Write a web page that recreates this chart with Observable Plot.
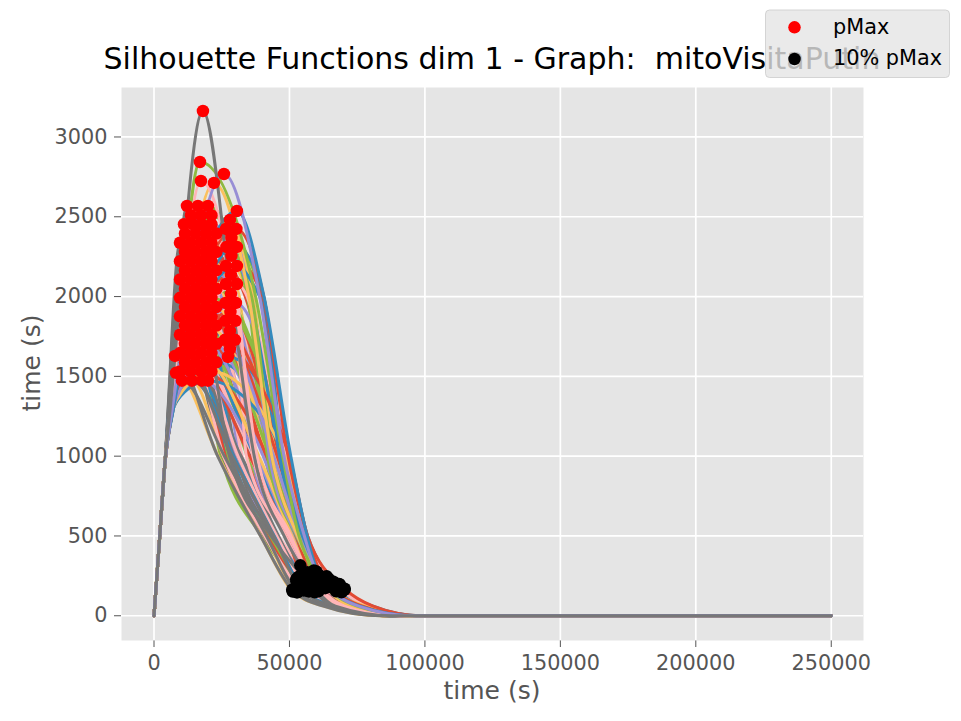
<!DOCTYPE html>
<html>
<head>
<meta charset="utf-8">
<script src="https://cdn.jsdelivr.net/npm/d3@7"></script>
<script src="https://cdn.jsdelivr.net/npm/@observablehq/plot@0.6"></script>
<style>
  html, body { margin: 0; padding: 0; background: #fff; }
  #wrap { position: relative; width: 961px; height: 721px; font-family: "DejaVu Sans", sans-serif; }
  #wrap > svg { position: absolute; left: 0; top: 0; }
</style>
</head>
<body>
<div id="wrap"></div>
<script>
// ---------- data ----------
const titleText = "Silhouette Functions dim 1 - Graph:  mitoVisitaPutin";
const xTicks = [0, 50000, 100000, 150000, 200000, 250000];
const yTicks = [0, 500, 1000, 1500, 2000, 2500, 3000];
const palette = ["#E24A33", "#348ABD", "#988ED5", "#777777", "#FBC15E", "#8EBA42", "#FFB5B8"];

// shared start of every function and its flat end
const riseX = [0, 2000, 4000];
const riseY = [0, 470, 950];
const endX = 250000;

// pMax (red points)
const pMaxX = [15301,26362,17329,11061,19172,28575,15301,28390,11430,19172,
  9586,26546,13458,23044,13458,29865,15301,11430,17329,26546,
  14379,19172,13458,28021,9586,21200,15301,28390,11430,13458,
  17329,11430,28021,11430,21200,28575,13642,23044,9586,21200,
  15301,19172,17329,30602,17329,9586,21200,13458,19172,26362,
  23044,15301,9586,19172,19910,15301,17329,13458,26546,11430,
  14011,23044,13458,28206,17329,17329,9586,8111,21200,11430,
  15301,27284,19172,9586,23044,30049,13458,21200,11430,17698,
  9586,28021,21200,16223,17329,19910,30234,10324,19172,21200,
  30602,23044,30602,21200,7743,21200,26731,17698,23044,23044,
  26178,12167,22122,16960,17329,30418,30602,25809,18066];
const pMaxY = [2395,1960,2337,2453,2395,2367,2164,2136,2395,2164,
  2337,2192,2107,2395,2337,1729,2280,2280,2107,2079,
  2453,2280,1992,1785,2107,2337,1934,2017,2049,2222,
  2510,1934,1672,2164,1646,2255,2510,2164,1876,2222,
  2049,1934,1876,2311,2222,1761,2107,1876,2049,1848,
  1588,1819,2222,1819,2568,1704,1992,1531,2424,1704,
  1473,2049,1646,1904,1646,1761,1992,1522,1992,1819,
  1588,1622,1704,1531,1934,1848,1761,1876,1588,1473,
  1646,2480,1761,2568,1531,1473,1960,1473,1588,2510,
  2079,1819,2192,2453,1628,1531,2311,2453,1704,2280,
  1729,2568,2712,2843,2724,2424,2536,2768,3163];

// x where each function rises through 1300 (null: the peak comes first)
const up1300X = [6100,6800,6300,5700,6400,7000,6100,7000,5700,6400,
  null,6900,5900,6600,5900,7100,6100,5700,6300,6900,
  6000,6400,5900,7000,null,6500,6100,7000,5700,5900,
  6300,5700,7000,5700,6500,7000,5900,6600,null,6500,
  6100,6400,6300,7200,6300,null,6500,5900,6400,6800,
  6600,6100,null,6400,6400,6100,6300,5900,6900,5700,
  6000,6600,5900,7000,6300,6300,null,null,6500,5700,
  6100,6900,6400,null,6600,7100,5900,6500,5700,6300,
  null,7000,6500,6200,6300,6400,7100,null,6400,6500,
  7200,6600,7200,6500,null,6500,6900,6300,6600,6600,
  6800,5800,6600,6400,6300,7100,7200,6800,6000];

// x where each function falls through 2000 (null: peak below it), 1000, 500 and 60
const down2000X = [30500,null,31000,17500,31500,39500,null,null,19000,null,
  20000,null,null,35500,19000,null,23000,17500,null,null,
  22500,34500,null,null,null,35000,null,null,null,null,
  30500,null,null,null,null,40000,21500,null,null,null,
  null,null,null,40500,null,null,null,null,null,null,
  null,null,null,null,34500,null,null,null,36000,null,
  null,null,null,null,null,null,null,null,null,null,
  null,null,null,null,null,null,null,null,null,null,
  null,36500,null,30000,null,null,null,null,null,35000,
  null,null,null,35500,null,null,36000,30500,null,39000,
  null,18500,35000,37500,30000,40500,40600,39000,28500];
const down1000X = [35000,42400,35600,26400,36400,47000,38000,48000,29200,35700,
  30500,42000,36300,41000,25300,49000,31500,25000,37000,44000,
  32500,41500,26700,47400,35200,43300,34500,41600,26400,37500,
  36000,31700,49500,24600,48500,46000,28900,43400,25400,46400,
  27500,37500,36700,47500,40600,30100,42400,38400,43000,42800,
  49100,29900,28100,44400,41100,35300,41300,32000,43800,35800,
  25600,48400,36700,46500,37100,43700,29500,23700,49300,25700,
  35300,49800,40300,32200,42200,47900,31000,47700,29300,37800,
  28800,44700,42700,34100,41700,48700,49600,26000,38700,41900,
  48700,45500,46700,42600,23500,48200,43500,36500,49900,46300,
  44200,27900,43500,47500,38000,49500,50500,48000,37000];
const down500X = [49000,52700,49300,41700,49700,55000,50500,55500,44400,49400,
  45000,52500,49700,52000,40700,56000,45500,40500,50000,53500,
  46000,52300,42400,55200,49100,53200,48800,52300,42200,50300,
  49500,45600,56500,39800,55800,54500,44200,53200,40700,54700,
  43000,50300,49900,55300,51800,44800,52700,50700,53000,52900,
  56300,44700,43800,53700,52100,49200,52200,45800,53400,49400,
  41300,55700,49900,54800,50100,53400,44500,39400,56200,40900,
  49200,56700,51700,45900,52600,55500,45300,55400,44400,50400,
  44200,53900,52900,48600,52400,56100,56300,41500,50900,52500,
  55900,54300,54900,52800,39300,55600,53300,49800,56700,54700,
  53600,43200,53000,53500,50500,56500,56500,55500,48000];

// 10% pMax (black points)
const p10X = [57000,61400,57100,53400,57900,64000,59500,66000,54700,57700,
  55500,61000,57800,60000,52800,68000,56500,52500,58500,63000,
  57500,60500,53700,65400,57200,62300,56500,60600,53400,59000,
  57500,56700,70000,52600,67500,62000,54900,62400,52900,63400,
  54000,59000,58200,64500,59600,55600,61400,59900,62000,61800,
  69600,55400,54100,63400,60100,57300,60300,57000,62800,57300,
  52600,66400,58200,62500,58600,62700,55000,51200,68300,53200,
  56800,70300,59300,57200,61200,64900,56000,65700,55300,59300,
  54300,63700,61700,56100,60700,69200,68600,53000,60200,60900,
  66700,61500,63700,61600,51000,67200,62500,58000,70400,62300,
  63200,54400,59500,59000,56500,62500,61000,60000,54000];
const p10Y = [240,196,234,245,240,237,216,214,240,216,
  234,219,211,240,234,173,228,228,211,208,
  245,228,199,179,211,234,193,202,205,222,
  251,193,167,216,165,226,251,216,188,222,
  205,193,188,231,222,176,211,188,205,185,
  159,182,222,182,257,170,199,153,242,170,
  147,205,165,190,165,176,199,152,199,182,
  159,162,170,153,193,185,176,188,159,147,
  165,248,176,257,153,147,196,147,159,251,
  208,182,219,245,163,153,231,245,170,228,
  173,257,271,284,272,242,254,277,316];

const down60X = [69500,72900,69600,64900,69900,77000,71000,78000,66200,70200,
  67000,73000,70300,72500,64300,79000,68000,64000,70500,74500,
  68500,72500,65200,77400,69700,73800,69000,73100,64900,70500,
  70000,68200,80500,64100,78500,76000,66400,73900,64400,76400,
  65500,71000,70700,77500,72100,67100,73400,71400,73500,73800,
  80100,66900,65600,74900,72100,69800,72800,68500,74300,69800,
  64100,78400,70200,76500,70100,74200,66500,62700,79300,64700,
  69300,80800,71800,68200,73200,77900,67500,77700,66800,71300,
  65800,75200,73200,68600,72700,79700,79600,64500,71700,73400,
  78700,75500,76700,73600,62500,78200,74000,70500,80900,76300,
  74700,65900,73000,75000,70000,77000,76000,75500,67000];
const zeroX = [90000,92900,90100,85900,90400,96000,91000,97000,87200,90700,
  88000,93000,90800,92500,85300,97500,88500,85000,91000,94000,
  89000,92500,85700,96400,90200,93800,89500,93100,85400,90500,
  90500,88700,98500,85100,97000,95500,87400,93400,85400,95400,
  86500,91500,91200,96500,92100,88100,93400,91400,93500,93800,
  98100,87900,86600,94400,92100,90300,92800,89000,94300,90300,
  85100,97400,90700,96000,90100,93700,87500,83700,97800,85700,
  89800,98800,91800,88700,93200,96900,88000,96700,87800,91800,
  86800,94700,93200,89100,92700,97700,98100,85500,91700,93400,
  97700,95000,95700,93600,83500,96700,94000,91000,98900,95800,
  94200,86900,93000,95000,90500,96500,97000,96000,88000];

// ---------- build tables ----------
const lineRows = [];
pMaxX.forEach((px, i) => {
  const knots = riseX.map((x, k) => [x, riseY[k]]);
  if (up1300X[i] != null) knots.push([up1300X[i], 1300]);
  knots.push([px, pMaxY[i]]);
  if (down2000X[i] != null) knots.push([down2000X[i], 2000]);
  knots.push([down1000X[i], 1000], [down500X[i], 500], [p10X[i], p10Y[i]],
             [down60X[i], 60], [zeroX[i], 0], [endX, 0]);
  const color = palette[i % palette.length];
  knots.forEach(([x, y]) => lineRows.push({id: i, x, y, color}));
});
const peaks = pMaxX.map((x, i) => ({x, y: pMaxY[i]}));
const tens = p10X.map((x, i) => ({x, y: p10Y[i]}));

// ---------- chart ----------
const chart = Plot.plot({
  width: 961,
  height: 721,
  marginLeft: 121,
  marginRight: 98,
  marginTop: 87,
  marginBottom: 81,
  style: {fontFamily: "DejaVu Sans", fontSize: "20.8px", color: "#555555", background: "white"},
  x: {domain: [-12000, 261900], ticks: xTicks, tickFormat: d => String(d), tickSize: 7, tickPadding: 8, label: null},
  y: {domain: [-155, 3310], ticks: yTicks, tickFormat: d => String(d), tickSize: 7, tickPadding: 7, label: null},
  color: {type: "identity"},
  marks: [
    Plot.frame({fill: "#E5E5E5", stroke: "none"}),
    Plot.ruleX(xTicks, {stroke: "white", strokeWidth: 1.7}),
    Plot.ruleY(yTicks, {stroke: "white", strokeWidth: 1.7}),
    Plot.line(lineRows, {x: "x", y: "y", z: "id", stroke: "color", strokeWidth: 3, curve: "monotone-x"}),
    Plot.dot(peaks, {x: "x", y: "y", r: 6.25, fill: "red", stroke: "none"}),
    Plot.dot(tens, {x: "x", y: "y", r: 6.25, fill: "black", stroke: "none"})
  ]
});
const wrap = document.getElementById("wrap");
wrap.appendChild(chart);

// ---------- overlay: title, axis labels, legend ----------
const NS = "http://www.w3.org/2000/svg";
const ov = document.createElementNS(NS, "svg");
ov.setAttribute("width", 961);
ov.setAttribute("height", 721);
ov.style.fontFamily = "'DejaVu Sans', sans-serif";
function txt(parent, x, y, s, size, fill, anchor, transform) {
  const t = document.createElementNS(NS, "text");
  t.setAttribute("x", x); t.setAttribute("y", y);
  t.setAttribute("font-size", size); t.setAttribute("fill", fill);
  t.setAttribute("text-anchor", anchor);
  t.style.whiteSpace = "pre";
  if (transform) t.setAttribute("transform", transform);
  t.textContent = s;
  parent.appendChild(t);
  return t;
}
txt(ov, 492, 68.5, titleText, 30, "#000", "middle");
txt(ov, 492, 699, "time (s)", 25, "#555555", "middle");
txt(ov, 0, 0, "time (s)", 25, "#555555", "middle", "translate(40,363) rotate(-90)");

const legendLabels = ["pMax", "10% pMax"];
const legendColors = ["red", "black"];
const box = document.createElementNS(NS, "rect");
box.setAttribute("x", 765.5); box.setAttribute("y", 10);
box.setAttribute("width", 184); box.setAttribute("height", 67.5);
box.setAttribute("rx", 4);
box.setAttribute("fill", "#E5E5E5"); box.setAttribute("fill-opacity", 0.8);
box.setAttribute("stroke", "#CCCCCC"); box.setAttribute("stroke-opacity", 0.8);
ov.appendChild(box);
legendLabels.forEach((lab, k) => {
  const c = document.createElementNS(NS, "circle");
  c.setAttribute("cx", 794.5); c.setAttribute("cy", 27.3 + k * 31.7);
  c.setAttribute("r", 6.25); c.setAttribute("fill", legendColors[k]);
  ov.appendChild(c);
  txt(ov, 833, 34 + k * 31.3, lab, 20.8, "#000", "start");
});
wrap.appendChild(ov);
</script>
</body>
</html>
